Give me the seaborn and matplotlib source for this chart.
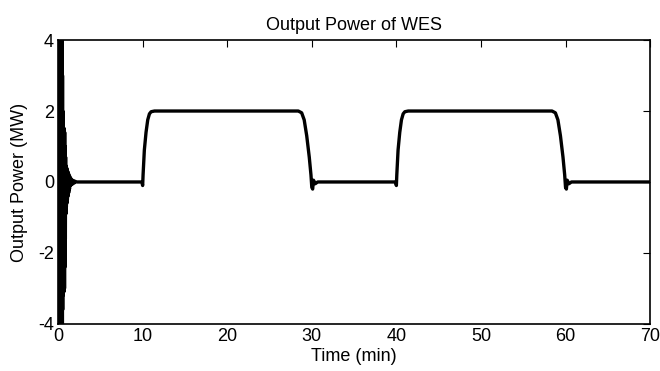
import matplotlib
matplotlib.use("Agg")
import matplotlib.pyplot as plt
import seaborn as sns
import pandas as pd

# start-up oscillation (min / MW)
osc_time = [0.000, 0.015, 0.030, 0.045, 0.060, 0.075, 0.090, 0.105, 0.120, 0.135,
            0.150, 0.165, 0.180, 0.195, 0.210, 0.225, 0.240, 0.255, 0.270, 0.285,
            0.300, 0.315, 0.330, 0.345, 0.360, 0.375, 0.390, 0.405, 0.420, 0.435,
            0.450, 0.465, 0.480, 0.495, 0.510, 0.525, 0.540, 0.555, 0.570, 0.585,
            0.600, 0.620, 0.640, 0.660, 0.680, 0.700, 0.720, 0.740, 0.760, 0.780,
            0.800, 0.830, 0.860, 0.890, 0.920, 0.950, 0.980, 1.010, 1.040, 1.070,
            1.100, 1.140, 1.180, 1.220, 1.260, 1.300, 1.350, 1.400, 1.500, 1.600,
            1.700, 1.800, 1.900, 2.000, 2.200]
osc_power = [0.0, 4.0, -4.0, 4.0, -4.0, 4.0, -4.0, 4.0, -4.0, 4.0,
             -4.0, 4.0, -4.0, 4.0, -4.0, 4.0, -4.0, 4.0, -4.0, 4.0,
             -4.0, 4.0, -4.0, 4.0, -4.0, 4.0, -4.0, 4.0, -4.0, 4.0,
             -4.0, 4.0, -4.0, 4.0, -4.0, 3.0, -3.6, 2.0, -3.2, 1.6,
             -3.1, 1.6, -3.1, 1.5, -3.1, 1.5, -3.0, 1.5, -3.0, 1.4,
             -2.4, 1.0, -1.6, 0.7, -0.9, 0.45, -0.7, 0.4, -0.6, 0.35,
             -0.5, 0.3, -0.4, 0.25, -0.3, 0.2, -0.2, 0.15, -0.1, 0.08,
             -0.06, 0.04, -0.03, 0.02, 0.0]

# two charge cycles of the WES
cyc_time = [2.2, 9.9, 10.0, 10.05, 10.2, 10.4, 10.6, 10.8, 11.0, 11.4,
            28.4, 28.8, 29.1, 29.4, 29.7, 29.9, 30.0, 30.1, 30.2, 30.4, 30.7,
            39.9, 40.0, 40.05, 40.2, 40.4, 40.6, 40.8, 41.0, 41.4,
            58.4, 58.8, 59.1, 59.4, 59.7, 59.9, 60.0, 60.1, 60.2, 60.4, 60.7,
            70.0]
cyc_power = [0.0, 0.0, -0.1, 0.2, 0.9, 1.4, 1.75, 1.92, 1.98, 2.0,
             2.0, 1.95, 1.75, 1.3, 0.7, 0.2, -0.15, -0.2, 0.05, -0.05, 0.0,
             0.0, -0.1, 0.2, 0.9, 1.4, 1.75, 1.92, 1.98, 2.0,
             2.0, 1.95, 1.75, 1.3, 0.7, 0.2, -0.15, -0.2, 0.05, -0.05, 0.0,
             0.0]

data = pd.DataFrame({"Time": osc_time + cyc_time,
                     "Power": osc_power + cyc_power})

sns.set_style("white")
plt.rcParams["font.family"] = ["Liberation Sans", "DejaVu Sans"]
plt.rcParams["axes.unicode_minus"] = False
plt.rcParams["text.color"] = "black"
plt.rcParams["axes.labelcolor"] = "black"

fig = plt.figure(figsize=(6.6, 3.71), dpi=100)
ax = fig.add_axes([0.088, 0.127, 0.897, 0.765])

sns.lineplot(x="Time", y="Power", data=data, sort=False, estimator=None,
             color="black", linewidth=2.4, ax=ax)

ax.set_xlim(0, 70)
ax.set_ylim(-4, 4)
ax.set_xticks(range(0, 71, 10))
ax.set_yticks([-4, -2, 0, 2, 4])
ax.tick_params(direction="in", top=True, right=True, length=5, width=0.8,
               labelsize=13, pad=3, colors="black")
for s in ax.spines.values():
    s.set_color("black")
    s.set_linewidth(1.2)

ax.set_xlabel("Time (min)", fontsize=13, labelpad=2)
ax.set_ylabel("Output Power (MW)", fontsize=13, labelpad=7)
ax.set_title("Output Power of WES", fontsize=13, pad=7, color="black")

plt.savefig("out.png", dpi=100)
